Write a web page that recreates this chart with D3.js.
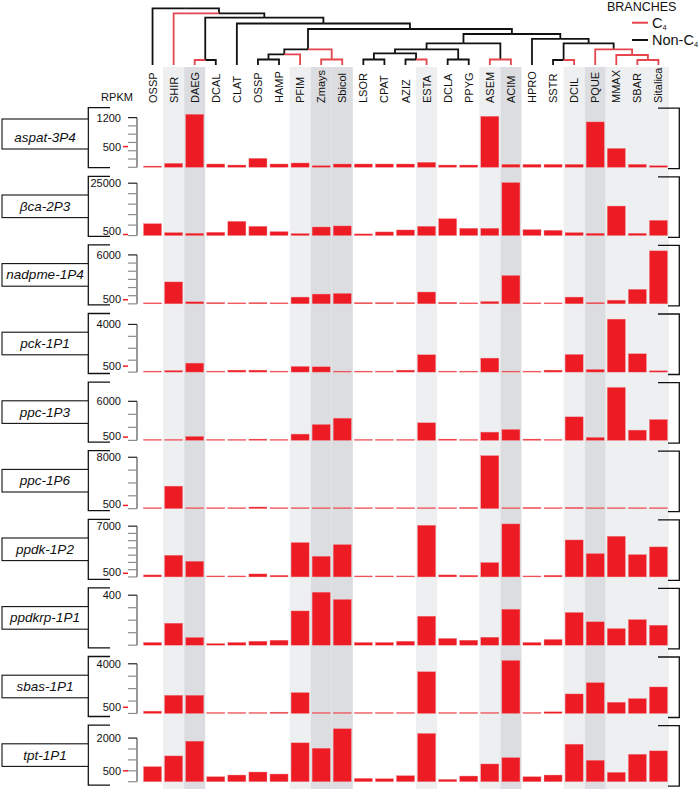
<!DOCTYPE html>
<html><head><meta charset="utf-8">
<script src="https://cdn.jsdelivr.net/npm/d3@7"></script>
<style>
html,body{margin:0;padding:0;background:#fff;}
svg{display:block;font-family:"Liberation Sans",Arial,sans-serif;}
</style></head>
<body><svg id="chart" width="700" height="789"></svg>
<script>
// ---------- data ----------
const columns = ["OSSP","SHIR","DAEG","DCAL","CLAT","OSSP","HAMP","PFIM","Zmays","Sbicol","LSOR","CPAT","AZIZ","ESTA","DCLA","PPYG","ASEM","ACIM","HPRO","SSTR","DCIL","PQUE","MMAX","SBAR","Sitalica"];
const shading = ["none","light","dark","none","none","none","none","light","dark","dark","none","none","none","light","none","none","light","dark","none","none","light","dark","light","light","light"];
const genes = ["aspat-3P4","βca-2P3","nadpme-1P4","pck-1P1","ppc-1P3","ppc-1P6","ppdk-1P2","ppdkrp-1P1","sbas-1P1","tpt-1P1"];

const aspat3P4 = [30,96,1280,80,55,216,80,104,40,80,80,80,80,120,55,55,1232,72,72,72,72,1096,456,72,40];
const bca2P3   = [5700,1425,1100,1580,6800,4430,1900,950,4100,4600,800,1740,2690,4430,8070,3480,3480,25300,2850,2530,1425,1100,14100,1100,7280];
const nadpme1P4= [100,2690,250,160,120,160,80,830,1200,1280,160,160,160,1450,200,120,290,3480,120,120,830,160,455,1780,6500];
const pck1P1   = [55,140,755,55,168,168,84,475,447,84,84,84,168,1454,84,84,1175,55,84,168,1482,224,4446,1538,112];
const ppc1P3   = [150,150,610,150,100,200,150,967,2440,3410,150,150,150,2700,200,150,1270,1680,200,100,3615,458,8140,1578,3207];
const ppc1P6   = [50,3506,50,50,50,258,50,50,50,50,50,50,50,50,50,200,8250,50,200,50,200,50,50,50,50];
const ppdk1P2  = [276,2990,2160,138,138,414,230,4740,2850,4460,138,138,138,7130,276,230,1980,7310,138,230,5100,3220,5610,3080,4140];
const ppdkrp1P1= [22,176,62,13,22,32,40,274,424,366,22,22,32,232,54,40,64,288,22,46,262,187,133,205,160];
const sbas1P1  = [187,1467,1467,53,53,80,107,1680,53,53,80,80,80,3360,80,80,80,4267,80,133,1573,2480,907,1200,2133];
const tpt1P1   = [691,1183,1859,230,307,445,353,1782,1536,2428,154,138,277,2213,108,261,814,1106,230,307,1721,983,430,1260,1414];
const seriesValues = [aspat3P4,bca2P3,nadpme1P4,pck1P1,ppc1P3,ppc1P6,ppdk1P2,ppdkrp1P1,sbas1P1,tpt1P1];

const tickSteps = [200,5000,1000,1000,2000,2000,1000,100,1000,500];
const tickTops  = [1200,25000,6000,4000,6000,8000,7000,400,4000,2000];
const thresholdValue = 500;

// dendrogram: h = merge height (0..100), c4 = branch is C4
const tree = {h:100, c:[
  {leaf:0},
  {h:91.2, c:[
    {leaf:1, c4:true},
    {h:83.4, c:[
      {h:8.8, c:[{leaf:2, c4:true},{leaf:3}]},
      {h:73.2, c:[
        {leaf:4},
        {h:63.5, c:[
          {h:27.5, c:[
            {h:18.7, c:[ {h:9.7, c:[{leaf:5},{leaf:6}]}, {leaf:7, c4:true} ]},
            {h:9.7, c4:true, c:[{leaf:8, c4:true},{leaf:9, c4:true}]}
          ]},
          {h:54.7, c:[
            {h:38.3, c:[
              {h:27.5, c:[
                {h:20.5, c:[ {h:9.7, c:[{leaf:10},{leaf:11}]}, {h:9.7, c:[{leaf:12},{leaf:13, c4:true}]} ]},
                {h:9.7, c:[{leaf:14},{leaf:15}]}
              ]},
              {h:9.7, c:[{leaf:16, c4:true},{leaf:17, c4:true}]}
            ]},
            {h:46.0, c:[
              {leaf:18},
              {h:38.3, c:[
                {h:8.8, c:[{leaf:19},{leaf:20, c4:true}]},
                {h:27.5, c:[
                  {leaf:21, c4:true},
                  {h:17.6, c4:true, c:[{leaf:22, c4:true}, {h:8.8, c4:true, c:[{leaf:23, c4:true},{leaf:24, c4:true}]}]}
                ]}
              ]}
            ]}
          ]}
        ]}
      ]}
    ]}
  ]}
]};

// ---------- drawing ----------
const svg = d3.select("#chart");
const RED = "#ed1c24", TREE_RED = "#e5454c";

const x = d3.scaleBand().domain(d3.range(columns.length)).range([142, 669]).padding(0);
const shadeColor = {light:"#eeeff1", dark:"#dcdde0"};

// column shading
svg.append("g").selectAll("rect")
  .data(columns.map((c,i)=>({i, s:shading[i]})).filter(d=>d.s!=="none"))
  .join("rect")
  .attr("x", d=>x(d.i)).attr("width", x.bandwidth())
  .attr("y", 67).attr("height", 789-67)
  .attr("fill", d=>shadeColor[d.s]);

// column labels (read bottom-to-top)
svg.append("g").selectAll("text").data(columns).join("text")
  .attr("transform", (d,i)=>`translate(${x(i)+x.bandwidth()/2+4},103) rotate(-90)`)
  .attr("text-anchor","start").attr("font-size",11).attr("fill","#111").text(d=>d);

svg.append("text").attr("x",117).attr("y",101).attr("text-anchor","middle")
  .attr("font-size",11).attr("fill","#111").text("RPKM");

// dendrogram
const ty = d3.scaleLinear().domain([0,100]).range([65, 8.3]);
function layout(n){
  if (n.leaf !== undefined){ n.x = x(n.leaf)+x.bandwidth()/2; n.y = ty(0); }
  else { n.c.forEach(layout); n.x = d3.mean(n.c, k=>k.x); n.y = ty(n.h); }
}
layout(tree);
const segs = [];
(function collect(n){
  if (!n.c) return;
  n.c.forEach(k=>{ segs.push({x0:n.x, y0:n.y, x1:k.x, y1:k.y, c4:!!k.c4}); collect(k); });
})(tree);
const tg = svg.append("g").attr("fill","none").attr("stroke-width",1.8);
tg.selectAll("path").data(segs.filter(s=>!s.c4)).join("path")
  .attr("d", s=>`M${s.x0},${s.y0}H${s.x1}V${s.y1}`).attr("stroke","#111");
tg.append("g").selectAll("path").data(segs.filter(s=>s.c4)).join("path")
  .attr("d", s=>`M${s.x0},${s.y0}H${s.x1}V${s.y1}`).attr("stroke",TREE_RED);

// legend
svg.append("text").attr("x",607).attr("y",10.5).attr("font-size",12.5).attr("fill","#111").text("BRANCHES");
svg.append("line").attr("x1",632).attr("x2",648).attr("y1",22.7).attr("y2",22.7).attr("stroke",TREE_RED).attr("stroke-width",2);
svg.append("line").attr("x1",632).attr("x2",648).attr("y1",40).attr("y2",40).attr("stroke","#111").attr("stroke-width",2);
const l1 = svg.append("text").attr("x",652).attr("y",27.5).attr("font-size",14.5).attr("fill","#111");
l1.append("tspan").text("C");
l1.append("tspan").attr("font-size",7.5).attr("dy",2).text("4");
const l2 = svg.append("text").attr("x",652).attr("y",45).attr("font-size",14.5).attr("fill","#111");
l2.append("tspan").text("Non-C");
l2.append("tspan").attr("font-size",7.5).attr("dy",2).text("4");

// panels
genes.forEach((gene, p)=>{
  const vals = seriesValues[p];
  const base = 167.3 + p*68.27;
  const top = 107.7 + p*68.6;
  const bot = top + 60;
  const y = d3.scaleLinear().domain([0, d3.max(vals)]).range([base, base-53]);
  const g = svg.append("g");

  // left bracket + label box
  g.append("path").attr("d",`M110,${top}H88.3V${bot}H110`).attr("fill","none").attr("stroke","#111").attr("stroke-width",1.3);
  const mid = top + 30;
  const y2 = mid + 11.3;
  const bh = p===0 ? 30 : 22.6;
  g.append("rect").attr("x",2).attr("y",y2-bh).attr("width",86.3).attr("height",bh)
    .attr("fill","#fff").attr("stroke","#111").attr("stroke-width",1.1);
  g.append("text").attr("x",45).attr("y",y2-6.8).attr("text-anchor","middle")
    .attr("font-size",13.5).attr("font-style","italic").attr("fill","#111").text(gene);

  // right bracket
  g.append("path").attr("d",`M658,${top+0.5}H679.3V${bot+1}H668`).attr("fill","none").attr("stroke","#111").attr("stroke-width",1.3);

  // axis
  const ticks = d3.range(0, tickTops[p]+1e-6, tickSteps[p]);
  g.append("line").attr("x1",137).attr("x2",137).attr("y1",y(0)).attr("y2",y(tickTops[p])).attr("stroke","#333").attr("stroke-width",1);
  g.selectAll("line.tk").data(ticks).join("line").attr("class","tk")
    .attr("x1",128).attr("x2",137).attr("y1",d=>y(d)).attr("y2",d=>y(d))
    .attr("stroke",d=>d===tickTops[p]?"#222":"#8c8c8c").attr("stroke-width",1.2);
  g.append("text").attr("x",121).attr("y",y(tickTops[p])+4).attr("text-anchor","end")
    .attr("font-size",11).attr("fill","#111").text(tickTops[p]);
  if (thresholdValue <= d3.max(vals)){
    g.append("line").attr("x1",123).attr("x2",128).attr("y1",y(thresholdValue)).attr("y2",y(thresholdValue))
      .attr("stroke",RED).attr("stroke-width",1.5);
    g.append("text").attr("x",121).attr("y",Math.min(y(thresholdValue), base-4.5)+4).attr("text-anchor","end")
      .attr("font-size",11).attr("fill","#111").text(thresholdValue);
  }

  // bars
  g.selectAll("rect.bar").data(vals).join("rect").attr("class","bar")
    .attr("x",(d,i)=>x(i)+1.5).attr("width",x.bandwidth()-3)
    .attr("y",d=>Math.min(y(d), base-1)).attr("height",d=>Math.max(base-y(d),1))
    .attr("fill",RED).attr("stroke","#f08a8e").attr("stroke-width",0.4);
});
</script>
</body></html>
